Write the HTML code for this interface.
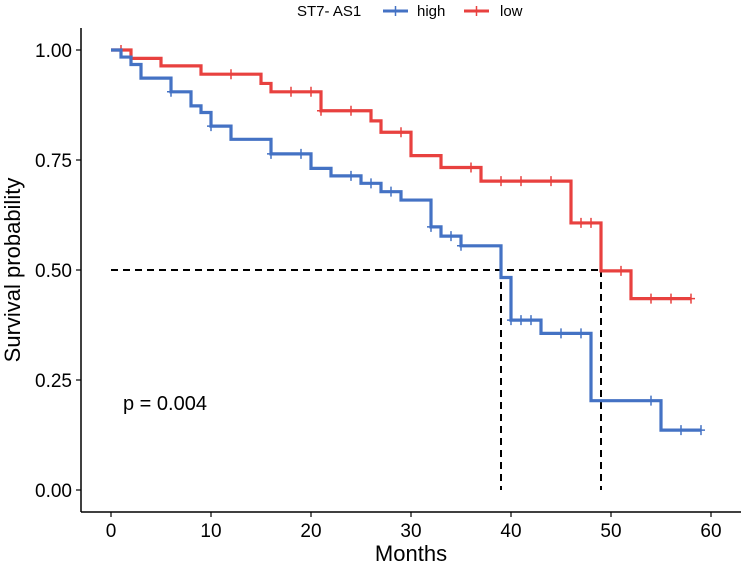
<!DOCTYPE html>
<html><head><meta charset="utf-8"><style>
body{margin:0;background:#fff}
svg{display:block;font-family:"Liberation Sans",Arial,sans-serif}
</style></head><body>
<svg id="chart" width="744" height="567">
<g id="legend">
<text x="297" y="16" font-size="15" fill="#000">ST7- AS1</text>
<line x1="383" y1="11" x2="408" y2="11" stroke="#4472c4" stroke-width="3"/>
<line x1="395.5" y1="6" x2="395.5" y2="16" stroke="#4472c4" stroke-width="1.5"/>
<text x="417" y="16" font-size="15">high</text>
<line x1="464" y1="11" x2="489" y2="11" stroke="#e8413f" stroke-width="3"/>
<line x1="476.5" y1="6" x2="476.5" y2="16" stroke="#e8413f" stroke-width="1.5"/>
<text x="500" y="16" font-size="15">low</text>
</g>
<g id="axes"></g>
<g id="marks"></g>
<text x="123" y="410" font-size="20">p = 0.004</text>
<text x="411" y="561" font-size="22" text-anchor="middle">Months</text>
<text transform="translate(20,270) rotate(-90)" font-size="22" text-anchor="middle">Survival probability</text>
</svg>
<script>
const xTicks=[0,10,20,30,40,50,60];
const yTicks=[0,0.25,0.5,0.75,1];
const yTickLabels=["0.00","0.25","0.50","0.75","1.00"];
const highTimes=[0,1,2,3,6,8,9,10,12,16,20,22,25,27,29,32,33,35,39,40,43,48,55,59];
const highSurv=[1,0.984,0.967,0.936,0.905,0.873,0.858,0.827,0.797,0.764,0.731,0.714,0.697,0.678,0.659,0.598,0.577,0.555,0.483,0.386,0.356,0.203,0.136,0.136];
const highCensor=[6,10,16,19,24,26,28,32,34,35,40,41,42,45,47,54,57,59];
const lowTimes=[0,2,5,9,15,16,21,26,27,30,33,37,46,49,52,58];
const lowSurv=[1,0.981,0.964,0.945,0.924,0.905,0.862,0.839,0.813,0.760,0.733,0.702,0.607,0.498,0.435,0.435];
const lowCensor=[1,12,18,20,21,24,29,36,39,41,44,47,48,51,54,56,58];
const medians=[39,49];

const X=m=>111+10*m, Y=s=>490-440*s;
const NS="http://www.w3.org/2000/svg";
const axes=document.getElementById('axes'), marks=document.getElementById('marks');
function mk(tag,attrs,parent){const e=document.createElementNS(NS,tag);for(const k in attrs)e.setAttribute(k,attrs[k]);parent.appendChild(e);return e;}

let l=mk('line',{x1:81,y1:28,x2:81,y2:512,stroke:'#000','stroke-width':1.5},axes);


l=mk('line',{x1:81,y1:512,x2:741,y2:512,stroke:'#000','stroke-width':1.5},axes);


xTicks.forEach(t=>{
  mk('line',{x1:X(t),y1:512,x2:X(t),y2:517,stroke:'#000','stroke-width':1.2},axes);
  const tx=mk('text',{x:X(t),y:537,'font-size':19,'text-anchor':'middle'},axes);
  tx.textContent=t;
  
  
});
yTicks.forEach((t,i)=>{
  mk('line',{x1:76,y1:Y(t),x2:81,y2:Y(t),stroke:'#000','stroke-width':1.2},axes);
  const tx=mk('text',{x:72,y:Y(t)+7,'font-size':19,'text-anchor':'end'},axes);
  tx.textContent=yTickLabels[i];
  
  
});

let d='M'+X(0)+','+Y(0.5)+'H'+X(Math.max(...medians));
medians.forEach(m=>{d+='M'+X(m)+','+Y(0.5)+'V'+Y(0);});
const med=mk('path',{d:d,stroke:'#000','stroke-width':2,'stroke-dasharray':'7,5',fill:'none'},marks);



function stepSurv(times,surv,t){let s=surv[0];for(let i=0;i<times.length;i++){if(times[i]<=t)s=surv[i];}return s;}
function curve(times,surv,cens,color,name){
  let p='M'+X(times[0])+','+Y(surv[0]);
  for(let i=1;i<times.length;i++){p+='H'+X(times[i])+'V'+Y(surv[i]);}
  const c=mk('path',{d:p,stroke:color,'stroke-width':3.2,fill:'none'},marks);
  
  
  cens.forEach(t=>{
    const s=stepSurv(times,surv,t);
    const m=mk('path',{d:'M'+X(t)+','+(Y(s)-5)+'V'+(Y(s)+5)+'M'+(X(t)-4)+','+Y(s)+'H'+(X(t)+4),stroke:color,'stroke-width':1.5},marks);
    
    
  });
}
curve(lowTimes,lowSurv,lowCensor,'#e8413f','low');
curve(highTimes,highSurv,highCensor,'#4472c4','high');
</script>
</body></html>
